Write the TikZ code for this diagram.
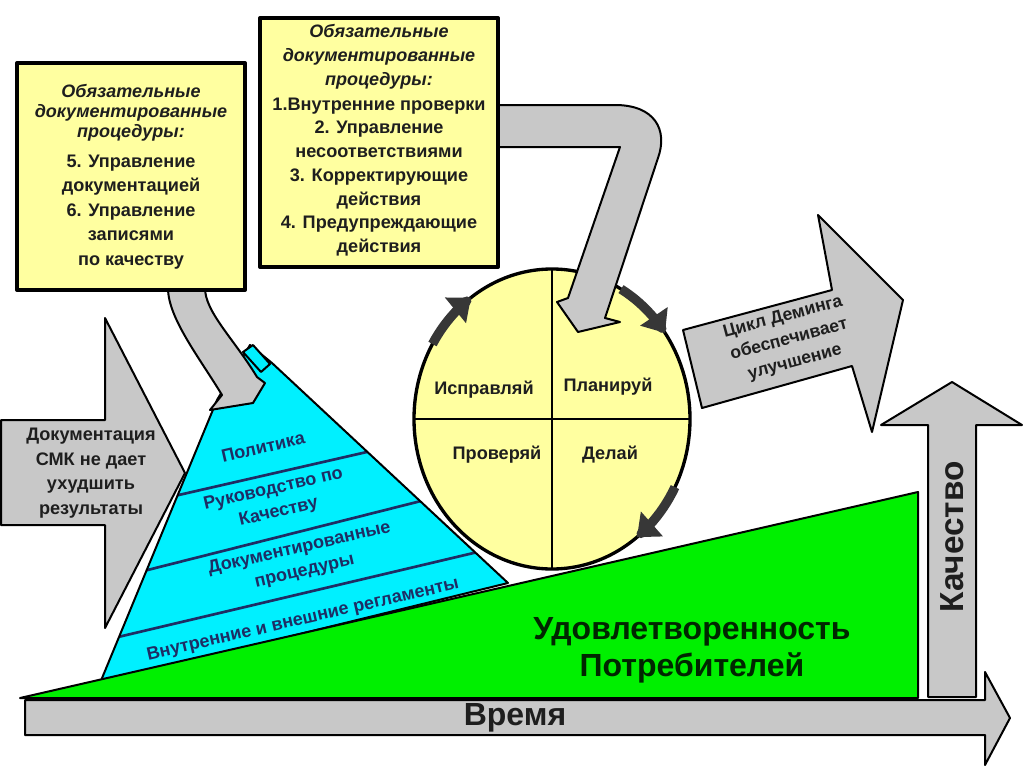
\documentclass[tikz,border=0pt]{standalone}
\usepackage{fontspec}
\setmainfont{Liberation Sans}
\usetikzlibrary{arrows.meta}
\definecolor{boxyel}{RGB}{255,255,160}
\definecolor{arrgray}{RGB}{200,200,200}
\definecolor{grn}{RGB}{0,240,0}
\definecolor{cyn}{RGB}{0,240,255}
\definecolor{navy}{RGB}{30,45,100}
\definecolor{txt}{RGB}{30,30,30}
\definecolor{darkarr}{RGB}{55,55,55}
\begin{document}
\begin{tikzpicture}[x=0.75pt,y=-0.75pt,line join=round,
  grayshape/.style={fill=arrgray,draw=black,line width=1.5pt},
  ybox/.style={fill=boxyel,draw=black,line width=3pt},
  lbl/.style={text=txt,align=center,inner sep=0pt},
  boxhead/.style={lbl,font=\bfseries\itshape\fontsize{13.5}{15}\selectfont},
  boxbody/.style={lbl,font=\bfseries\fontsize{13.6}{18.4}\selectfont},
  pyrtxt/.style={text=navy,align=center,inner sep=0pt,rotate=13,font=\bfseries\fontsize{13.5}{17.5}\selectfont},
  circtxt/.style={lbl,font=\bfseries\fontsize{13.6}{15}\selectfont},
  bigtxt/.style={lbl,font=\bfseries\fontsize{24}{27}\selectfont},
  cycarrow/.style={darkarr,line width=7pt,-{Triangle[width=24pt,length=15pt]}},
  layer/.style={navy,line width=2pt}
]
\useasboundingbox (0,0) rectangle (1024,767);
\fill[white] (0,0) rectangle (1024,767);

% time arrow
\draw[grayshape] (25,700) -- (985,700) -- (985,672) -- (1010,718) -- (985,765) -- (985,735) -- (25,735) -- cycle;
\node[bigtxt] (time) at (515,718) {Время};

% quality arrow
\draw[grayshape] (928,697) -- (928,425) -- (881,425) -- (952,382) -- (1022,425) -- (976,425) -- (976,697) -- cycle;
\node[bigtxt,rotate=90,font=\bfseries\fontsize{25}{27}\selectfont] (quality) at (952,537) {Качество};

% pyramid
\path[fill=cyn] (100,683) -- (508,583) -- (272,363) -- (250,345) -- (217,400) -- cycle;
\begin{scope}
\clip (100,683) -- (508,583) -- (272,363) -- (250,345) -- (217,400) -- cycle;
\draw[layer] (100,513) -- (520,417);
\draw[layer] (100,582) -- (520,476);
\draw[layer] (80,646) -- (520,542);
\end{scope}
\draw[line width=1.5pt] (100,683) -- (508,583) -- (272,363) -- (250,345) -- (217,400) -- cycle;
\node[pyrtxt] (p1) at (263,447) {Политика};
\node[pyrtxt] (p2) at (276,501) {Руководство по\\Качеству};
\node[pyrtxt] (p3) at (302,560) {Документированные\\процедуры};
\node[pyrtxt] (p4) at (303,620) {Внутренние и внешние регламенты};

% green
\draw[fill=grn,draw=black,line width=1.5pt] (20,698) -- (918,492) -- (918,698) -- cycle;
\node[bigtxt,text=black!85!green,font=\bfseries\fontsize{24}{27.5}\selectfont] (sat) at (692,650) {Удовлетворенность\\Потребителей};

% left arrow
\draw[grayshape] (1,420) -- (105,420) -- (105,318) -- (185,473) -- (105,628) -- (105,525) -- (1,525) -- cycle;
\node[lbl,font=\bfseries\fontsize{13.6}{18.5}\selectfont] (doc) at (91,473) {Документация\\СМК не дает\\ухудшить\\результаты};

% curved arrow left box -> pyramid
\draw[grayshape] (168,288) .. controls (168,318) and (199,357) .. (222,395) -- (210,410) -- (253,403) -- (265,383) -- (257,377) .. controls (234,339) and (205,312) .. (205,288) -- cycle;
\draw[fill=cyn,draw=black,line width=1.5pt] (243,352) -- (253,345) -- (270,364) -- (261,372) -- cycle;

% box 1
\draw[ybox] (17,63) rectangle (245,290);
\node[boxhead] (b1h) at (131,113) {Обязательные\\документированные\\процедуры:};
\node[boxbody] (b1b) at (131,212) {5. Управление\\документацией\\6. Управление\\записями\\по качеству};

% right arrow
\draw[grayshape] (683,330) -- (832,290) -- (818,215) -- (903,300) -- (872,432) -- (852,366) -- (702,408) -- cycle;
\node[lbl,rotate=15,font=\bfseries\fontsize{13.2}{17.5}\selectfont] (deming) at (789,340) {Цикл Деминга\\обеспечивает\\улучшение};

% circle
\draw[fill=boxyel,line width=2.5pt] (552,419) ellipse [x radius=103.5pt, y radius=112.5pt];
\draw[line width=2pt] (552,269) -- (552,569);
\draw[line width=2pt] (414,419) -- (690,419);
\node[circtxt] (act) at (484,390) {Исправляй};
\node[circtxt] (plan) at (608,387) {Планируй};
\node[circtxt] (check) at (497,455) {Проверяй};
\node[circtxt] (do) at (610,455) {Делай};
\draw[cycarrow] plot[domain=150:126,samples=12] ({552+138*cos(\x)},{419-150*sin(\x)});
\draw[cycarrow] plot[domain=60:35,samples=12] ({552+138*cos(\x)},{419-150*sin(\x)});
\draw[cycarrow] plot[domain=-27:-52,samples=12] ({552+138*cos(\x)},{419-150*sin(\x)});

% arrow box 2 -> circle
\draw[grayshape] (495,105) -- (615,105) .. controls (655,105) and (668,130) .. (658,158) -- (605,318) -- (620,322) -- (578,332) -- (557,302) -- (568,298) -- (620,147) -- (495,147) -- cycle;

% box 2
\draw[ybox] (260,18) rectangle (498,267);
\node[boxhead,font=\bfseries\itshape\fontsize{13.5}{18}\selectfont] (b2h) at (379,57) {Обязательные\\документированные\\процедуры:};
\node[boxbody,font=\bfseries\fontsize{13.6}{17.8}\selectfont] (b2b) at (379,177) {1.Внутренние проверки\\2. Управление\\несоответствиями\\3. Корректирующие\\действия\\4. Предупреждающие\\действия};
\end{tikzpicture}
\end{document}
